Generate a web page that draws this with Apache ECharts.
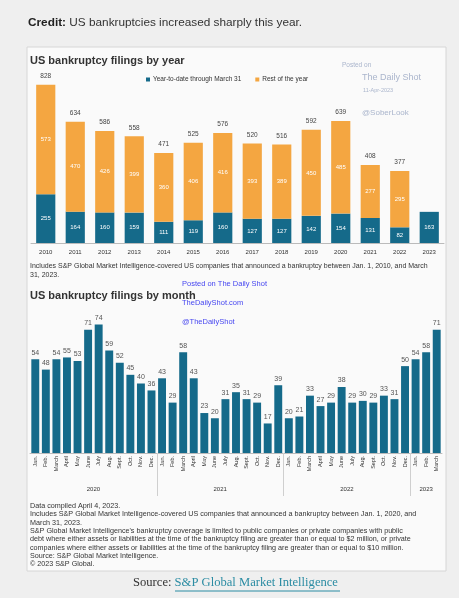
<!DOCTYPE html>
<html><head><meta charset="utf-8">
<script src="https://cdn.jsdelivr.net/npm/echarts@6/dist/echarts.min.js"></script>
<style>html,body{margin:0;padding:0;background:#efefef}#c{width:459px;height:598px}</style>
</head><body><div id="c"></div>
<script>
// ---- yearly data ----
const years = ['2010','2011','2012','2013','2014','2015','2016','2017','2018','2019','2020','2021','2022','2023'];
const ytd = [255,164,160,159,111,119,160,127,127,142,154,131,82,163];
const rest = [573,470,426,399,360,406,416,393,389,450,485,277,295,'-'];
const totals = [828,634,586,558,471,525,576,520,516,592,639,408,377,'-'];
// ---- monthly data ----
const monthNames = ['Jan.','Feb.','March','April','May','June','July','Aug.','Sept.','Oct.','Nov.','Dec.'];
const yearGroups = ['2020','2021','2022','2023'];
const monthsPerGroup = [12,12,12,3];
const monthly = [54,48,54,55,53,71,74,59,52,45,40,36,
                 43,29,58,43,23,20,31,35,31,29,17,39,
                 20,21,33,27,29,38,29,30,29,33,31,50,
                 54,58,71];

const monthCats = [];
monthsPerGroup.forEach(n => { for (let i = 0; i < n; i++) monthCats.push(monthNames[i]); });
// half-month slots for the group axis
const groupSlots = new Array(monthCats.length * 2 + 1).fill('');
const boundaries = [];
let acc = 0;
monthsPerGroup.forEach((n, g) => {
  groupSlots[acc * 2 + n] = yearGroups[g];
  acc += n;
  if (g < monthsPerGroup.length - 1) boundaries.push(acc * 2);
});

const note1 = 'Includes S&P Global Market Intelligence-covered US companies that announced a bankruptcy between Jan. 1, 2010, and March\n31, 2023.';
const note2 = [
  'Data compiled April 4, 2023.',
  'Includes S&P Global Market Intelligence-covered US companies that announced a bankruptcy between Jan. 1, 2020, and',
  'March 31, 2023.',
  'S&P Global Market Intelligence\'s bankruptcy coverage is limited to public companies or private companies with public',
  'debt where either assets or liabilities at the time of the bankruptcy filing are greater than or equal to $2 million, or private',
  'companies where either assets or liabilities at the time of the bankruptcy filing are greater than or equal to $10 million.',
  'Source: S&P Global Market Intelligence.',
  '© 2023 S&P Global.'
].join('\n');

const TEAL = '#156a8a', ORANGE = '#f4a641';
const FONT = '"Liberation Sans", Arial, sans-serif';
const SERIF = '"Liberation Serif", "DejaVu Serif", serif';
const chart = echarts.init(document.getElementById('c'), null, {renderer: 'canvas'});
chart.setOption({
  backgroundColor: '#efefef',
  animation: false,
  textStyle: {fontFamily: FONT},
  graphic: [
    {type: 'rect', shape: {x: 27, y: 47, width: 419, height: 524}, style: {fill: '#fafafa', stroke: '#d6d6d6', lineWidth: 1}, z: -10},
    {type: 'text', left: 28, top: 17, style: {text: '{b|Credit:} US bankruptcies increased sharply this year.', fontSize: 11.8, fill: '#333', fontFamily: FONT,
      rich: {b: {fontWeight: 'bold', fontSize: 11.8, fill: '#222', fontFamily: FONT}}}},
    {type: 'text', left: 30, top: 55, style: {text: 'US bankruptcy filings by year', fontSize: 11, fontWeight: 'bold', fill: '#333', fontFamily: FONT}},
    {type: 'text', left: 30, top: 262, style: {text: note1, fontSize: 7, fill: '#333', lineHeight: 8.5, fontFamily: FONT}},
    {type: 'text', left: 30, top: 290, style: {text: 'US bankruptcy filings by month', fontSize: 11, fontWeight: 'bold', fill: '#333', fontFamily: FONT}},
    {type: 'text', left: 30, top: 502, style: {text: note2, fontSize: 7.2, fill: '#333', lineHeight: 8.3, fontFamily: FONT}},
    // watermarks
    {type: 'text', left: 342, top: 62, style: {text: 'Posted on', fontSize: 6.5, fill: '#aab5cc', fontFamily: FONT}},
    {type: 'text', left: 362, top: 73, style: {text: 'The Daily Shot', fontSize: 9, fill: '#aab5cc', fontFamily: FONT}},
    {type: 'text', left: 363, top: 87, style: {text: '11-Apr-2023', fontSize: 5.5, fill: '#aab5cc', fontFamily: FONT}},
    {type: 'text', left: 362, top: 109, style: {text: '@SoberLook', fontSize: 8, fill: '#aab5cc', fontFamily: FONT}},
    {type: 'text', left: 182, top: 280, style: {text: 'Posted on The Daily Shot', fontSize: 7.5, fill: '#4747f0', fontFamily: FONT}},
    {type: 'text', left: 182, top: 299, style: {text: 'TheDailyShot.com', fontSize: 7.5, fill: '#4747f0', fontFamily: FONT}},
    {type: 'text', left: 182, top: 318, style: {text: '@TheDailyShot', fontSize: 7.5, fill: '#4747f0', fontFamily: FONT}},
    // source
    {type: 'text', left: 133, top: 576, style: {text: 'Source: {l|S&P Global Market Intelligence}', fontSize: 12.6, fill: '#333', fontFamily: SERIF,
      rich: {l: {fontSize: 12.6, fill: '#2b8ca3', fontFamily: SERIF}}}},
    {type: 'line', shape: {x1: 175, y1: 591, x2: 340, y2: 591}, style: {stroke: '#2b8ca3', lineWidth: 1}}
  ],
  legend: {
    top: 71, left: 141, itemWidth: 4, itemHeight: 4, itemGap: 14, icon: 'rect',
    data: ['Year-to-date through March 31', 'Rest of the year'],
    textStyle: {fontSize: 6.5, color: '#333', padding: [0, 0, 0, -2]}
  },
  grid: [
    {left: 31, right: 15, top: 71, height: 172},
    {left: 30, right: 17, top: 314, height: 139}
  ],
  xAxis: [
    {type: 'category', gridIndex: 0, data: years,
     axisLine: {lineStyle: {color: '#bbb'}}, axisTick: {show: false},
     axisLabel: {fontSize: 6, color: '#333', margin: 6}},
    {type: 'category', gridIndex: 1, data: monthCats,
     axisLine: {lineStyle: {color: '#bbb'}}, axisTick: {show: false},
     axisLabel: {fontSize: 5.5, color: '#333', rotate: 90, interval: 0, margin: 3}},
    {type: 'category', gridIndex: 1, data: groupSlots, boundaryGap: false, position: 'bottom',
     axisLine: {show: false},
     axisTick: {show: true, length: 43, interval: (i) => boundaries.indexOf(i) >= 0, lineStyle: {color: '#cfcfcf'}},
     axisLabel: {fontSize: 6, color: '#333', interval: 0, margin: 33}}
  ],
  yAxis: [
    {type: 'value', gridIndex: 0, min: 0, max: 900, show: false},
    {type: 'value', gridIndex: 1, min: 0, max: 80, show: false}
  ],
  series: [
    {name: 'Year-to-date through March 31', type: 'bar', stack: 'y', xAxisIndex: 0, yAxisIndex: 0,
     data: ytd, barCategoryGap: '35%', itemStyle: {color: TEAL},
     label: {show: true, position: 'inside', color: '#fff', fontSize: 6}},
    {name: 'Rest of the year', type: 'bar', stack: 'y', xAxisIndex: 0, yAxisIndex: 0,
     data: rest, itemStyle: {color: ORANGE},
     label: {show: true, position: 'inside', color: '#fff', fontSize: 6}},
    {name: 'total', type: 'bar', stack: 'y', xAxisIndex: 0, yAxisIndex: 0,
     data: totals.map(t => t === '-' ? '-' : 0), itemStyle: {color: 'transparent'},
     label: {show: true, position: 'top', distance: 5, color: '#444', fontSize: 6.5,
       formatter: p => totals[p.dataIndex]}},
    {name: 'monthly', type: 'bar', xAxisIndex: 1, yAxisIndex: 1, data: monthly,
     barCategoryGap: '25%', itemStyle: {color: TEAL},
     label: {show: true, position: 'top', distance: 3, color: '#555', fontSize: 7}}
  ]
});
</script></body></html>
